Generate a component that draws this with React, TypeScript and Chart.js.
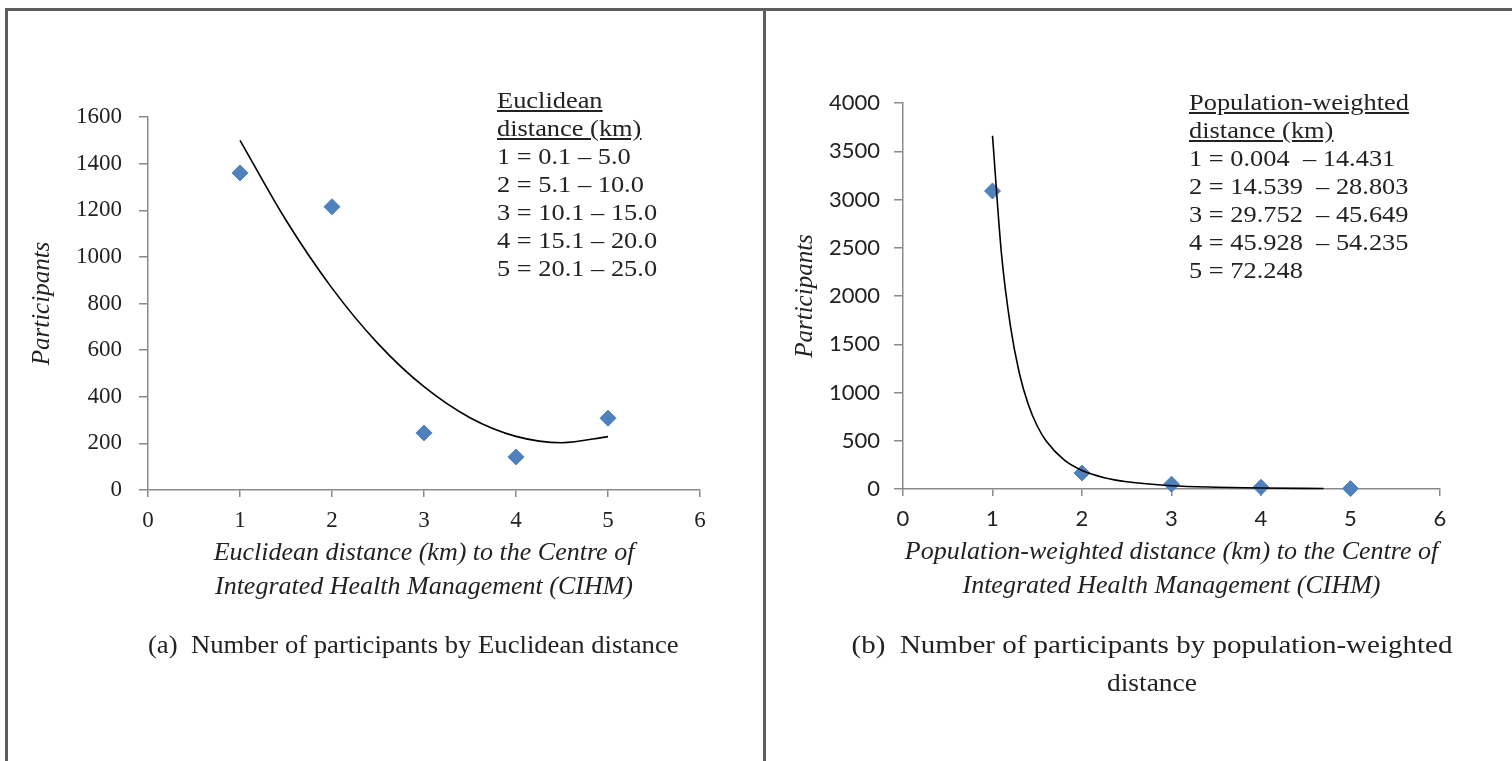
import React, { useEffect, useRef } from "react";
import { Chart, registerables } from "chart.js";

Chart.register(...registerables);

// ---- Data ----
const xAxisMin = 0;
const xAxisMax = 6;

const euclidCategories = [1, 2, 3, 4, 5];
const euclidParticipants = [1360, 1215, 245, 142, 308];
const euclidTrendX = [1, 1.5, 2, 2.5, 3, 3.5, 4, 4.5, 5];
const euclidTrendY = [1500, 1157, 866, 628, 443, 310, 230, 203, 229];
const euclidYMax = 1600;
const euclidYStep = 200;

const popCategories = [1, 2, 3, 4, 5];
const popParticipants = [3088, 166, 50, 18, 4];
const popTrendX = [1, 1.1, 1.2, 1.3, 1.4, 1.5, 1.6, 1.8, 2, 2.25, 2.5, 3, 3.5, 4, 4.7];
const popTrendY = [3660, 2440, 1690, 1200, 876, 653, 497, 301, 192, 117, 75, 34, 18, 10, 5];
const popYMax = 4000;
const popYStep = 500;

const euclidLegendTitle = ["Euclidean", "distance (km)"];
const euclidLegendLines = [
  "1 = 0.1 \u2013 5.0",
  "2 = 5.1 \u2013 10.0",
  "3 = 10.1 \u2013 15.0",
  "4 = 15.1 \u2013 20.0",
  "5 = 20.1 \u2013 25.0",
];
const popLegendTitle = ["Population-weighted", "distance (km)"];
const popLegendLines = [
  "1 = 0.004  \u2013 14.431",
  "2 = 14.539  \u2013 28.803",
  "3 = 29.752  \u2013 45.649",
  "4 = 45.928  \u2013 54.235",
  "5 = 72.248",
];

const euclidXTitle = [
  "Euclidean distance (km) to the Centre of",
  "Integrated Health Management (CIHM)",
];
const popXTitle = [
  "Population-weighted distance (km) to the Centre of",
  "Integrated Health Management (CIHM)",
];
const yTitle = "Participants";
const captionA = ["(a)", "Number of participants by Euclidean distance"];
const captionB = ["(b)", "Number of participants by population-weighted", "distance"];

const MARKER = "#4F81BD";
const AXIS = "#8a8a8a";
const TEXT = "#222222";
const SERIF = "'Liberation Serif', 'Times New Roman', serif";
const SANS = "Lato, 'Open Sans', sans-serif";

type PanelCfg = {
  width: number;
  height: number;
  pad: { left: number; right: number; top: number; bottom: number };
  yWidth: number;
  xHeight: number;
  yMax: number;
  yStep: number;
  cats: number[];
  vals: number[];
  tx: number[];
  ty: number[];
  xTitle: string[];
  tickFont: string;
  tickSize: number;
  yTitlePad: number;
  yTickPad: number;
};

const plain = (v: any) => String(v);

function buildConfig(c: PanelCfg): any {
  return {
    type: "scatter",
    data: {
      datasets: [
        {
          label: "trend",
          data: c.tx.map((x, i) => ({ x, y: c.ty[i] })),
          showLine: true,
          borderColor: "#000",
          borderWidth: 1.6,
          pointRadius: 0,
          cubicInterpolationMode: "monotone",
          fill: false,
          order: 0,
          clip: false,
        },
        {
          label: "Participants",
          data: c.cats.map((x, i) => ({ x, y: c.vals[i] })),
          showLine: false,
          pointStyle: "rectRot",
          pointRadius: 8,
          backgroundColor: MARKER,
          borderColor: MARKER,
          borderWidth: 1,
          order: 1,
          clip: false,
        },
      ],
    },
    options: {
      responsive: false,
      animation: false,
      devicePixelRatio: 1,
      layout: { padding: c.pad },
      plugins: { legend: { display: false }, tooltip: { enabled: false } },
      scales: {
        x: {
          type: "linear",
          min: xAxisMin,
          max: xAxisMax,
          afterFit: (s: any) => {
            s.height = c.xHeight;
          },
          ticks: {
            stepSize: 1,
            color: TEXT,
            padding: 10,
            font: { family: c.tickFont, size: c.tickSize },
            callback: plain,
          },
          grid: {
            drawOnChartArea: false,
            drawTicks: true,
            tickLength: 7,
            color: AXIS,
            lineWidth: 1.5,
          },
          border: { color: AXIS, width: 1.5 },
          title: {
            display: true,
            text: c.xTitle,
            color: TEXT,
            font: { family: SERIF, style: "italic", size: 26, lineHeight: 34 / 26 },
            padding: { top: 0, bottom: 0 },
          },
        },
        y: {
          type: "linear",
          min: 0,
          max: c.yMax,
          afterFit: (s: any) => {
            s.width = c.yWidth;
          },
          ticks: {
            stepSize: c.yStep,
            color: TEXT,
            padding: c.yTickPad,
            font: { family: c.tickFont, size: c.tickSize },
            callback: plain,
          },
          grid: {
            drawOnChartArea: false,
            drawTicks: true,
            tickLength: 9,
            color: AXIS,
            lineWidth: 1.5,
          },
          border: { color: AXIS, width: 1.5 },
          title: {
            display: true,
            text: yTitle,
            color: TEXT,
            font: { family: SERIF, style: "italic", size: 25 },
            padding: { top: c.yTitlePad, bottom: 0 },
          },
        },
      },
    },
  };
}

function Panel({ cfg, left }: { cfg: PanelCfg; left: number }) {
  const ref = useRef<HTMLCanvasElement | null>(null);
  useEffect(() => {
    if (!ref.current) return;
    const chart = new Chart(ref.current, buildConfig(cfg));
    return () => chart.destroy();
  }, []);
  return (
    <canvas
      ref={ref}
      width={cfg.width}
      height={cfg.height}
      style={{ position: "absolute", left, top: 0, width: cfg.width, height: cfg.height }}
    />
  );
}

const panelA: PanelCfg = {
  width: 763,
  height: 761,
  pad: { left: 20, right: 63, top: 117, bottom: 157 },
  yWidth: 128,
  xHeight: 114,
  yMax: euclidYMax,
  yStep: euclidYStep,
  cats: euclidCategories,
  vals: euclidParticipants,
  tx: euclidTrendX,
  ty: euclidTrendY,
  xTitle: euclidXTitle,
  tickFont: SERIF,
  tickSize: 23,
  yTitlePad: 7,
  yTickPad: 17,
};

const panelB: PanelCfg = {
  width: 746,
  height: 761,
  pad: { left: 12, right: 72, top: 103, bottom: 158 },
  yWidth: 125,
  xHeight: 114,
  yMax: popYMax,
  yStep: popYStep,
  cats: popCategories,
  vals: popParticipants,
  tx: popTrendX,
  ty: popTrendY,
  xTitle: popXTitle,
  tickFont: SANS,
  tickSize: 22,
  yTitlePad: 12,
  yTickPad: 14,
};

function Note({ left, top, title, lines }: { left: number; top: number; title: string[]; lines: string[] }) {
  return (
    <div
      style={{
        position: "absolute",
        left,
        top,
        fontFamily: SERIF,
        fontSize: 24,
        lineHeight: "28px",
        color: TEXT,
        whiteSpace: "pre",
        transform: "scaleX(1.1)",
        transformOrigin: "left top",
      }}
    >
      {title.map((t, i) => (
        <div key={"t" + i} style={{ textDecoration: "underline" }}>
          {t}
        </div>
      ))}
      {lines.map((t, i) => (
        <div key={"l" + i}>{t}</div>
      ))}
    </div>
  );
}

export default function App() {
  const line = "#5e5e5e";
  return (
    <div
      style={{
        position: "absolute",
        left: 0,
        top: 0,
        width: 1512,
        height: 761,
        background: "#fff",
        overflow: "hidden",
      }}
    >
      <Panel cfg={panelA} left={0} />
      <Panel cfg={panelB} left={766} />
      <div style={{ position: "absolute", left: 5, top: 8, width: 1507, height: 3, background: line }} />
      <div style={{ position: "absolute", left: 5, top: 8, width: 3, height: 753, background: line }} />
      <div style={{ position: "absolute", left: 763, top: 8, width: 3, height: 753, background: line }} />
      <Note left={497} top={86} title={euclidLegendTitle} lines={euclidLegendLines} />
      <Note left={1189} top={88} title={popLegendTitle} lines={popLegendLines} />
      <div
        style={{
          position: "absolute",
          left: 148,
          top: 629,
          fontFamily: SERIF,
          fontSize: 25,
          lineHeight: "32px",
          color: TEXT,
          whiteSpace: "pre",
          transform: "scaleX(1.066)",
          transformOrigin: "left top",
        }}
      >
        {captionA[0] + "  " + captionA[1]}
      </div>
      <div
        style={{
          position: "absolute",
          left: 852,
          width: 600,
          top: 626,
          fontFamily: SERIF,
          fontSize: 25,
          lineHeight: "38px",
          color: TEXT,
          whiteSpace: "pre",
          textAlign: "center",
        }}
      >
        <div style={{ transform: "scaleX(1.16)", transformOrigin: "center top" }}>
          {captionB[0] + "  " + captionB[1]}
        </div>
        <div style={{ transform: "scaleX(1.1)", transformOrigin: "center top" }}>{captionB[2]}</div>
      </div>
    </div>
  );
}
